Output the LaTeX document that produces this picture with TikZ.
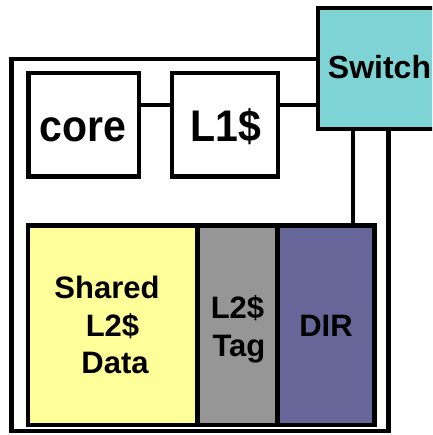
\documentclass[tikz,border=0pt]{standalone}
\usepackage{fontspec}
\setmainfont{Liberation Sans}
\definecolor{swteal}{RGB}{126,212,212}
\definecolor{l2yellow}{RGB}{255,255,153}
\definecolor{l2gray}{RGB}{150,150,150}
\definecolor{dirblue}{RGB}{102,102,153}
\tikzset{
  blk/.style={draw=black, line width=4.5pt, rectangle, inner sep=0pt},
  wire/.style={draw=black, line width=4.5pt},
  lbl/.style={inner sep=0pt, anchor=base},
  bigtext/.style={lbl, font=\bfseries\fontsize{41}{41}\selectfont},
  swtext/.style={lbl, font=\bfseries\fontsize{32}{32}\selectfont},
  midtext/.style={lbl, font=\bfseries\fontsize{31}{31}\selectfont},
}
\newcommand{\tallbox}[1]{\scalebox{1}[1.08]{#1}}
\begin{document}
\begin{tikzpicture}[x=1pt,y=-1pt]
\clip (0,0) rectangle (432,435);
\fill[white] (0,0) rectangle (432,435);
% outer chip
\node[blk, minimum width=376.8pt, minimum height=372pt] (chip) at (200.1,245) {};
% core and L1
\node[blk, minimum width=110.5pt, minimum height=103.5pt] (core) at (83.75,124.75) {};
\node[blk, minimum width=106pt, minimum height=103.5pt] (l1) at (225,124.75) {};
\node[bigtext] (corelabel) at (83,142) {\tallbox{core}};
\node[bigtext] (l1label) at (225.8,141.5) {\tallbox{L1\$}};
% switch
\node[blk, fill=swteal, minimum width=120pt, minimum height=121pt] (sw) at (378,68.5) {};
\node[swtext] (swlabel) at (379.5,79) {Switch};
% L2 blocks
\node[blk, fill=l2yellow, minimum width=169.5pt, minimum height=199.5pt] (data) at (112.75,325.25) {};
\node[blk, fill=l2gray, minimum width=80pt, minimum height=199.5pt] (tag) at (237.5,325.25) {};
\node[blk, fill=dirblue, minimum width=97pt, minimum height=199.5pt] (dir) at (326,325.25) {};
\node[midtext] (dataA) at (107,298.3) {Shared};
\node[midtext] (dataB) at (112.5,336) {L2\$};
\node[midtext] (dataC) at (115,373.5) {Data};
\node[midtext] (tagA) at (237.5,318.3) {L2\$};
\node[midtext] (tagB) at (239,356.7) {Tag};
\node[midtext] (dirlabel) at (326,336.7) {DIR};
% wires
\draw[wire] ([yshift=19.75pt]core.east) -- ([yshift=19.75pt]l1.west);
\draw[wire] ([yshift=19.75pt]l1.east) -- ([yshift=19.75pt]l1.east -| sw.west);
\draw[wire] ([xshift=-24pt]dir.north east |- sw.south) -- ([xshift=-24pt]dir.north east);
\end{tikzpicture}
\end{document}
